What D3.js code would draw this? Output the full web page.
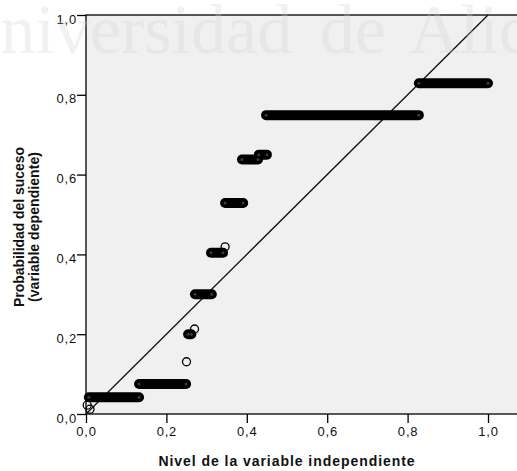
<!DOCTYPE html>
<html>
<head>
<meta charset="utf-8">
<script src="https://cdn.jsdelivr.net/npm/d3@7"></script>
<style>
    body { margin: 0; background: #fff; }
    text { font-family: "Liberation Sans", Arial, sans-serif; }
</style>
</head>
<body>
<div id="chart"></div>
<script>

// runs of overlapping cases: each level of y spans a range of x
const runY  = [0.042, 0.075, 0.200, 0.300, 0.404, 0.529, 0.638, 0.650, 0.749, 0.829];
const runX0 = [0.007, 0.132, 0.254, 0.271, 0.311, 0.346, 0.388, 0.430, 0.448, 0.828];
const runX1 = [0.132, 0.249, 0.262, 0.313, 0.341, 0.391, 0.428, 0.450, 0.828, 1.000];

// single cases that show as open circles
const pointX = [0.003, 0.010, 0.250, 0.270, 0.346];
const pointY = [0.022, 0.012, 0.131, 0.213, 0.419];

const tickValues = [0, 0.2, 0.4, 0.6, 0.8, 1.0];
const xTitle = 'Nivel de la variable independiente';
const yTitle = ['Probabilidad del suceso', '(variable dependiente)'];
const watermark = 'Universidad de Alicante';

function drawChart(rootDom){
    const w = 517, h = 471;

    const svg = d3.select(rootDom)
        .append('svg')
        .attr('width', w)
        .attr('height', h);

    const x = d3.scaleLinear().domain([0, 1]).range([86, 488]);
    const y = d3.scaleLinear().domain([0, 1]).range([414, 15]);
    const fmt = d => d3.format('.1f')(d).replace('.', ',');

    // plot background, runs past the right edge like the original
    svg.append('rect')
        .attr('x', x(0))
        .attr('y', y(1))
        .attr('width', w - x(0) + 5)
        .attr('height', y(0) - y(1))
        .style('fill', '#f0f0f0')
        .style('stroke', '#000')
        .style('stroke-width', '1.3px');

    // reference line y = x
    svg.append('line')
        .attr('x1', x(0)).attr('y1', y(0))
        .attr('x2', x(1)).attr('y2', y(1))
        .style('stroke', '#111')
        .style('stroke-width', '1.3px');

    const runs = runY.map((v, i) => ({y: v, x0: runX0[i], x1: runX1[i]}));

    svg.selectAll('.run')
        .data(runs)
        .enter().append('line')
        .attr('class', 'run')
        .attr('x1', d => x(d.x0)).attr('x2', d => x(d.x1))
        .attr('y1', d => y(d.y)).attr('y2', d => y(d.y))
        .style('stroke', '#000')
        .style('stroke-width', '10px')
        .style('stroke-linecap', 'round');

    // faint inner dot of the last circle at each end
    svg.selectAll('.runEnd')
        .data(runs.flatMap(d => [{x: d.x0, y: d.y}, {x: d.x1, y: d.y}]))
        .enter().append('circle')
        .attr('class', 'runEnd')
        .attr('cx', d => x(d.x)).attr('cy', d => y(d.y))
        .attr('r', 1.5)
        .style('fill', '#3a3a3a');

    const points = pointX.map((v, i) => ({x: v, y: pointY[i]}));

    svg.selectAll('.pt')
        .data(points)
        .enter().append('circle')
        .attr('class', 'pt')
        .attr('cx', d => x(d.x)).attr('cy', d => y(d.y))
        .attr('r', 4)
        .style('fill', 'none')
        .style('stroke', '#000')
        .style('stroke-width', '1.3px');

    // axes
    const xAxis = svg.append('g')
        .attr('transform', `translate(0,${y(0)})`)
        .call(d3.axisBottom(x).tickValues(tickValues).tickFormat(fmt).tickSize(9).tickSizeOuter(0));
    const yAxis = svg.append('g')
        .attr('transform', `translate(${x(0)},0)`)
        .call(d3.axisLeft(y).tickValues(tickValues).tickFormat(fmt).tickSize(9).tickSizeOuter(0));

    [xAxis, yAxis].forEach(a => {
        a.select('.domain').remove();
        a.selectAll('line').style('stroke', '#000').style('stroke-width', '1.3px');
        a.selectAll('text')
            .style('font-family', '"Liberation Sans", Arial, sans-serif')
            .style('font-size', '13px')
            .style('letter-spacing', '0.8px')
            .style('fill', '#111');
    });
    xAxis.selectAll('text').attr('y', 13).attr('dy', '0.71em');
    yAxis.selectAll('text').attr('x', -9).attr('dy', '0.62em');

    // titles: keep the glyph size, spread letters so they span the original width
    const fitText = (sel, target) => {
        sel.style('letter-spacing', '0px');
        const len = sel.node().getComputedTextLength();
        const n = sel.text().length;
        sel.style('letter-spacing', ((target - len) / n).toFixed(2) + 'px');
    };

    const xt = svg.append('text')
        .attr('x', 287)
        .attr('y', 466)
        .attr('text-anchor', 'middle')
        .style('font-size', '14px')
        .style('font-weight', 'bold')
        .style('fill', '#111')
        .text(xTitle);
    fitText(xt, 257);

    svg.selectAll('.ytitle')
        .data(yTitle)
        .enter().append('text')
        .attr('class', 'ytitle')
        .attr('transform', (d, i) => `translate(${24 + i * 15},227) rotate(-90)`)
        .attr('text-anchor', 'middle')
        .style('font-size', '14px')
        .style('font-weight', 'bold')
        .style('fill', '#111')
        .text(d => d)
        .each(function(d, i){ fitText(d3.select(this), i ? 150 : 160); });

    // watermark of the source document, over everything
    svg.append('text')
        .attr('x', -50)
        .attr('y', 53)
        .style('font-family', '"Liberation Serif", "Times New Roman", serif')
        .style('font-size', '70px')
        .style('word-spacing', '10px')
        .style('fill', '#d0d0d0')
        .style('opacity', 0.28)
        .text(watermark);
}

drawChart(document.getElementById('chart'));
</script>
</body>
</html>
